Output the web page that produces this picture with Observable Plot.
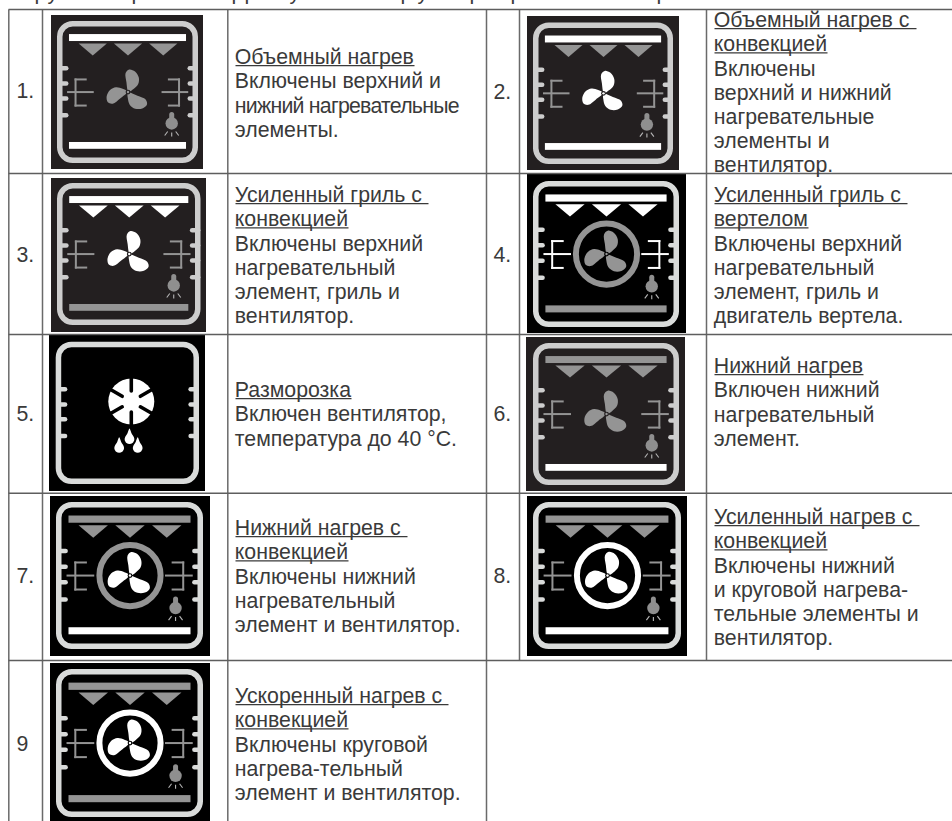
<!DOCTYPE html>
<html lang="ru">
<head>
<meta charset="utf-8">
<style>
html,body{margin:0;padding:0;background:#fff}
svg{display:block}
.condensed text{letter-spacing:-.76px}
</style>
<script src="https://cdn.jsdelivr.net/npm/d3@7"></script>
<script src="https://cdn.jsdelivr.net/npm/@observablehq/plot@0.6"></script>
</head>
<body>
<div id="chart"></div>
<script>
// ---- table contents ----
const modeNumbers = ["1.","2.","3.","4.","5.","6.","7.","8.","9"];
const modeTitles = [
  ["Объемный нагрев"],
  ["Объемный нагрев с ","конвекцией"],
  ["Усиленный гриль с ","конвекцией"],
  ["Усиленный гриль с ","вертелом"],
  ["Разморозка"],
  ["Нижний нагрев"],
  ["Нижний нагрев с ","конвекцией"],
  ["Усиленный нагрев с ","конвекцией"],
  ["Ускоренный нагрев с ","конвекцией"]
];
const modeBodies = [
  ["Включены верхний и","нижний нагревательные","элементы."],
  ["Включены","верхний и нижний","нагревательные","элементы и","вентилятор."],
  ["Включены верхний","нагревательный","элемент, гриль и","вентилятор."],
  ["Включены верхний","нагревательный","элемент, гриль и","двигатель вертела."],
  ["Включен вентилятор,","температура до 40 °C."],
  ["Включен нижний","нагревательный","элемент."],
  ["Включены нижний","нагревательный","элемент и вентилятор."],
  ["Включены нижний","и круговой нагрева-","тельные элементы и","вентилятор."],
  ["Включены круговой","нагрева-тельный","элемент и вентилятор."]
];
const condensedLines = ["нижний нагревательные"];
// element states of each pictogram: W lit, G unlit, "" absent
const topBarState    = ["W","W","W","W","","G","G","G","G"];
const trianglesState = ["G","G","W","W","","G","G","G","G"];
const fanState       = ["G","W","W","G","","G","W","W","W"];
const ringState      = ["","","","G","","","G","W","W"];
const heaterState    = ["G","G","G","W","","G","G","G","G"];
const bottomBarState = ["W","W","G","G","","W","W","W","G"];
const defrostState   = [0,0,0,0,1,0,0,0,0];
const darkGround     = [1,1,1,0,0,1,0,0,0];

// ---- layout ----
const columnLeftText = [234.3,713.3,234.3,713.3,234.3,713.3,234.3,713.3,234.3];
const columnLeftNum  = [16,493,16,493,16,493,16,493,16];
const numberMid   = [91,92,255,255,414,414,576,576,744];
const firstLine   = [57,20,195,195,390,366,528,517,696];
const titleEnds   = [[414],[916,827],[428,348],[907,808],[351],[863],[407,348],[919,827],[448,348]];
const iconX0 = [51,527,51,527,49,526,50,527,50];
const iconX1 = [203,679,206,686,205,685,210,687,210];
const iconY0 = [15,16,178,173,335,337,496,496,663];
const iconY1 = [169,170,332,333,491,491,656,656,825];
const frameX0 = [57,533,57,533,55.7,533,56,533,56];
const frameX1 = [198,673,200.5,679,199,679,203,681,203];
const frameY0 = [21,22.5,183,181,341.7,343,502,502,669];
const frameY1 = [163,164,325,327,484,485,649,649,817];
const gridV = [8.3,42,227.3,486];
const gridVUpper = [519,706];
const gridH = [9,173,334,492.7,660];
const clippedHeader = [["р",34],["у",47],["р",131],["р",231],["р",244],["у",289],["р",400],["у",417],["р",469],["р",510],["р",656]];

// fan blade outline, in pixels of a 141 px wide frame, around the hub
const blade = [[0,-1],[-1.6,-10],[-2.4,-19],[1.2,-22.6],[7,-20.6],[10.8,-14.5],[10.2,-8],[5.5,-3],[1.4,-.4]];
const drop = [[0,-8],[1.9,-3.6],[4.4,.8],[4.8,3.4],[3,6.4],[0,7.4],[-3,6.4],[-4.8,3.4],[-4.4,.8],[-1.9,-3.6]];
const dropOffsets = [[-12.1,43.7],[-1.8,35],[6.4,43.7]];
const nubFractions = [.33,.437,.542,.66];
const triangleCentres = [.25,.5,.75];

// ---- colours ----
const colour = {W:"#ffffff", G:"#949494", frameDark:"#cdcdcd", frameBlack:"#d9dbda", groundDark:"#231f20", groundBlack:"#000000", text:"#3a3a3a", rule:"#6a6a6a"};

// ---- derive mark rows ----
const grounds=[],frames=[],nubs=[],bars=[],polys=[],curved=[],heaters=[],rings=[],hubs=[],hubDots=[],bulbs=[],necks=[],rays=[],discs=[],slits=[];
const texts=[],underlines=[];
const lh = 24.1;

modeNumbers.forEach((n,i)=>{
  const bg = darkGround[i]?colour.groundDark:colour.groundBlack;
  const fx=f=>frameX0[i]+f*(frameX1[i]-frameX0[i]);
  const fy=f=>frameY0[i]+f*(frameY1[i]-frameY0[i]);
  const w=frameX1[i]-frameX0[i], k=w/141;
  grounds.push({x1:iconX0[i],x2:iconX1[i],y1:iconY0[i],y2:iconY1[i],c:bg});
  frames.push({x1:frameX0[i]+2.75,x2:frameX1[i]-2.75,y1:frameY0[i]+2.75,y2:frameY1[i]-2.75,c:darkGround[i]?colour.frameDark:colour.frameBlack});
  nubFractions.forEach(f=>{
    const c=darkGround[i]?colour.frameDark:colour.frameBlack;
    nubs.push({x1:fx(.02),x2:fx(.062),y1:fy(f),y2:fy(f),c});
    nubs.push({x1:fx(.98),x2:fx(.938),y1:fy(f),y2:fy(f),c});
  });
  if(topBarState[i]) bars.push({x1:fx(.085),x2:fx(.915),y1:fy(.092),y2:fy(.141),c:colour[topBarState[i]]});
  if(bottomBarState[i]) bars.push({x1:fx(.085),x2:fx(.915),y1:fy(.852),y2:fy(.9),c:colour[bottomBarState[i]]});
  if(trianglesState[i]) triangleCentres.forEach((t,j)=>{
    const id=`t${i}-${j}`,c=colour[trianglesState[i]];
    polys.push({id,c,x:fx(t-.1),y:fy(.155)},{id,c,x:fx(t+.1),y:fy(.155)},{id,c,x:fx(t),y:fy(.24)});
  });
  const cx=fx(.5), cy=fy(.497);
  if(heaterState[i]){
    const c=colour[heaterState[i]];
    const yT=fy(.408), yB=fy(.592);
    // left
    heaters.push({x1:fx(.075),x2:fx(.25),y1:cy,y2:cy,c});
    heaters.push({x1:fx(.128),x2:fx(.128),y1:yT,y2:yB,c});
    heaters.push({x1:fx(.128),x2:fx(.2),y1:yT,y2:yT,c});
    heaters.push({x1:fx(.128),x2:fx(.2),y1:yB,y2:yB,c});
    // right
    heaters.push({x1:fx(.745),x2:fx(.92),y1:cy,y2:cy,c});
    heaters.push({x1:fx(.862),x2:fx(.862),y1:yT,y2:yB,c});
    heaters.push({x1:fx(.79),x2:fx(.862),y1:yT,y2:yT,c});
    heaters.push({x1:fx(.79),x2:fx(.862),y1:yB,y2:yB,c});
  }
  if(ringState[i]) rings.push({x:cx,y:cy,c:colour[ringState[i]]});
  if(fanState[i]){
    const c=colour[fanState[i]];
    [0,120,240].forEach(a=>{
      const t=a*Math.PI/180, id=`b${i}-${a}`;
      blade.forEach(([bx,by])=>curved.push({id,c,x:cx+k*(bx*Math.cos(t)-by*Math.sin(t)),y:cy+k*(bx*Math.sin(t)+by*Math.cos(t))}));
    });
    hubs.push({x:cx,y:cy,c:bg});
    hubDots.push({x:cx,y:cy,c});
  }
  if(!defrostState[i]){
    const lx=fx(.81), ly=fy(.718), c="#8f8f8f";
    bulbs.push({x:lx,y:ly,c});
    necks.push({x1:lx,x2:lx,y1:ly-9,y2:ly-3,c});
    [[-4,8,-7,12],[0,9,0,13],[4,8,7,12]].forEach(([a,b,d,e])=>rays.push({x1:lx+a,y1:ly+b,x2:lx+d,y2:ly+e,c:"#b8b8b8"}));
  } else {
    const dx=fx(.524), dy=fy(.417);
    discs.push({x:dx,y:dy,c:colour.W});
    [30,90,150,210,270,330].forEach(a=>{
      const t=a*Math.PI/180;
      slits.push({x1:dx+10.5*Math.cos(t),y1:dy+10.5*Math.sin(t),x2:dx+25*Math.cos(t),y2:dy+25*Math.sin(t),c:bg});
    });
    dropOffsets.forEach(([ox,oy],j)=>{
      const id=`d${j}`;
      drop.forEach(([ax,ay])=>curved.push({id,c:colour.W,x:dx+ox+ax,y:dy+oy+ay}));
    });
  }
  // texts
  texts.push({x:columnLeftNum[i],y:numberMid[i],t:n});
  let y=firstLine[i];
  modeTitles[i].forEach((t,j)=>{
    texts.push({x:columnLeftText[i],y,t});
    underlines.push({x1:columnLeftText[i]+.7,x2:titleEnds[i][j],y:y+8.2});
    y+=lh;
  });
  modeBodies[i].forEach(t=>{texts.push({x:columnLeftText[i],y,t});y+=lh;});
});
clippedHeader.forEach(([t,x])=>texts.push({x,y:-8,t}));

const gridRows = [
  ...gridV.map(x=>({x1:x,x2:x,y1:9,y2:821})),
  ...gridVUpper.map(x=>({x1:x,x2:x,y1:9,y2:660}))
];
const gridColsH = gridH.map(y=>({x1:8,x2:952,y1:y,y2:y}));

const chart = Plot.plot({
  width:952,height:821,
  marginTop:0,marginRight:0,marginBottom:0,marginLeft:0,
  x:{domain:[0,952],range:[0,952],axis:null},
  y:{domain:[0,821],range:[0,821],axis:null},
  color:{type:"identity"},
  style:{background:"#fff",fontFamily:"'Liberation Sans',Arial,sans-serif"},
  marks:[
    Plot.rect(grounds,{x1:"x1",x2:"x2",y1:"y1",y2:"y2",fill:"c"}),
    Plot.rect(frames,{x1:"x1",x2:"x2",y1:"y1",y2:"y2",fill:"none",stroke:"c",strokeWidth:5.5,rx:13}),
    Plot.link(nubs,{x1:"x1",x2:"x2",y1:"y1",y2:"y2",stroke:"c",strokeWidth:4.5,strokeLinecap:"round"}),
    Plot.rect(bars,{x1:"x1",x2:"x2",y1:"y1",y2:"y2",fill:"c"}),
    Plot.line(polys,{x:"x",y:"y",z:"id",fill:"c",stroke:"none",curve:"linear-closed"}),
    Plot.link(heaters,{x1:"x1",x2:"x2",y1:"y1",y2:"y2",stroke:"c",strokeWidth:2,strokeLinecap:"square"}),
    Plot.dot(rings,{x:"x",y:"y",r:30.6,fill:"none",stroke:"c",strokeWidth:6}),
    Plot.dot(discs,{x:"x",y:"y",r:23,fill:"c"}),
    Plot.link(slits,{x1:"x1",x2:"x2",y1:"y1",y2:"y2",stroke:"c",strokeWidth:3.6,strokeLinecap:"round"}),
    Plot.line(curved,{x:"x",y:"y",z:"id",fill:"c",stroke:"none",curve:"catmull-rom-closed"}),
    Plot.dot(hubs,{x:"x",y:"y",r:2.4,fill:"c"}),
    Plot.dot(hubDots,{x:"x",y:"y",r:1.2,fill:"c"}),
    Plot.dot(bulbs,{x:"x",y:"y",r:6.2,fill:"c"}),
    Plot.link(necks,{x1:"x1",x2:"x2",y1:"y1",y2:"y2",stroke:"c",strokeWidth:5,strokeLinecap:"round"}),
    Plot.link(rays,{x1:"x1",x2:"x2",y1:"y1",y2:"y2",stroke:"c",strokeWidth:1.1}),
    Plot.link(gridRows,{x1:"x1",x2:"x2",y1:"y1",y2:"y2",stroke:colour.rule,strokeWidth:1.5}),
    Plot.link(gridColsH,{x1:"x1",x2:"x2",y1:"y1",y2:"y2",stroke:"#5e5e5e",strokeWidth:1.4}),
    Plot.text(texts.filter(d=>!condensedLines.includes(d.t)),{x:"x",y:"y",text:"t",textAnchor:"start",fontSize:21.3,fill:colour.text,lineHeight:1}),
    Plot.text(texts.filter(d=>condensedLines.includes(d.t)),{x:"x",y:"y",text:"t",textAnchor:"start",fontSize:21.3,fill:colour.text,lineHeight:1,className:"condensed"}),
    Plot.link(underlines,{x1:"x1",x2:"x2",y1:"y",y2:"y",stroke:colour.text,strokeWidth:1.2})
  ]
});
document.getElementById("chart").appendChild(chart);
</script>
</body>
</html>
